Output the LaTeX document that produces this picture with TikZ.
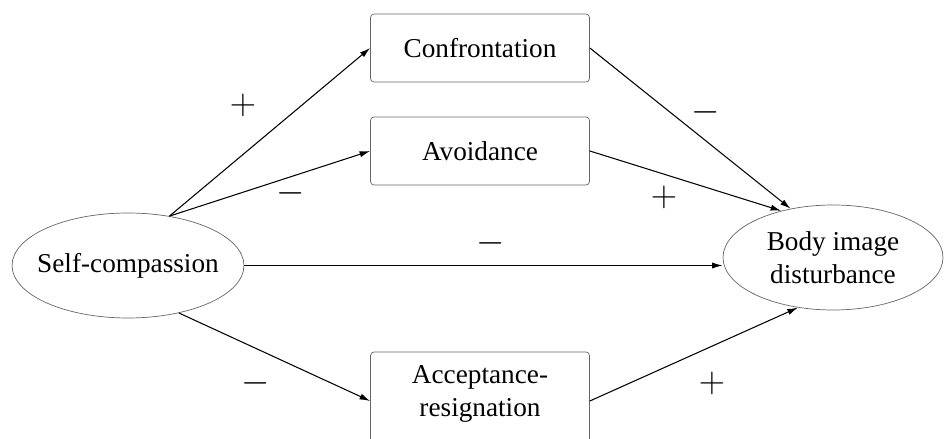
\documentclass[tikz,border=0pt]{standalone}
\usepackage{fontspec}
\setmainfont{Liberation Serif}
\usetikzlibrary{shapes.geometric,arrows.meta}

\begin{document}
\begin{tikzpicture}[
  every node/.style={font=\fontsize{15.5}{18.5}\selectfont},
  procbox/.style={draw=gray!80!black, rounded corners=2pt, minimum width=4.38cm, minimum height=1.36cm, align=center},
  varell/.style={draw=gray!80!black, ellipse, inner sep=0pt, align=center},
  sign/.style={font=\fontsize{19.5}{20}\selectfont},
  path/.style={-{Latex[length=6pt,width=3.5pt]}, semithick}
]
\useasboundingbox (0,0) rectangle (18.88,8.78);

% Mediators
\node[procbox] (conf) at (9.6,7.82) {Confrontation};
\node[procbox] (avoid) at (9.6,5.76) {Avoidance};
\node[procbox, minimum height=1.96cm] (accept) at (9.6,0.76) {};
\node[align=center] (accepttxt) at (9.6,0.9) {Acceptance-\\resignation};

% Predictor and outcome
\node[varell, inner xsep=-5pt, minimum width=4.6cm, minimum height=2.1cm] (self) at (2.56,3.47) {Self-compassion};
\node[varell, minimum width=4.4cm, minimum height=2.1cm] (body) at (16.66,3.63) {Body image\\disturbance};

% Arrows
\draw[path] (self.50) -- (conf.west);
\draw[path] (self.50) -- (avoid.west);
\draw[path] (self.east) -- (self.east -| body.west);
\draw[path] (self.-43) -- (accept.west);

\draw[path] (conf.east) -- (body.131);
\draw[path] (avoid.east) -- (body.138);
\draw[path] (accept.east) -- (body.235);

% Signs
\node[sign] (s1) at (4.86,6.68) {$+$};
\node[sign] (s2) at (5.82,4.92) {$-$};
\node[sign] (s3) at (9.82,3.92) {$-$};
\node[sign] (s4) at (14.12,6.54) {$-$};
\node[sign] (s5) at (13.28,4.84) {$+$};
\node[sign] (s6) at (5.12,1.12) {$-$};
\node[sign] (s7) at (14.24,1.12) {$+$};

\end{tikzpicture}
\end{document}
